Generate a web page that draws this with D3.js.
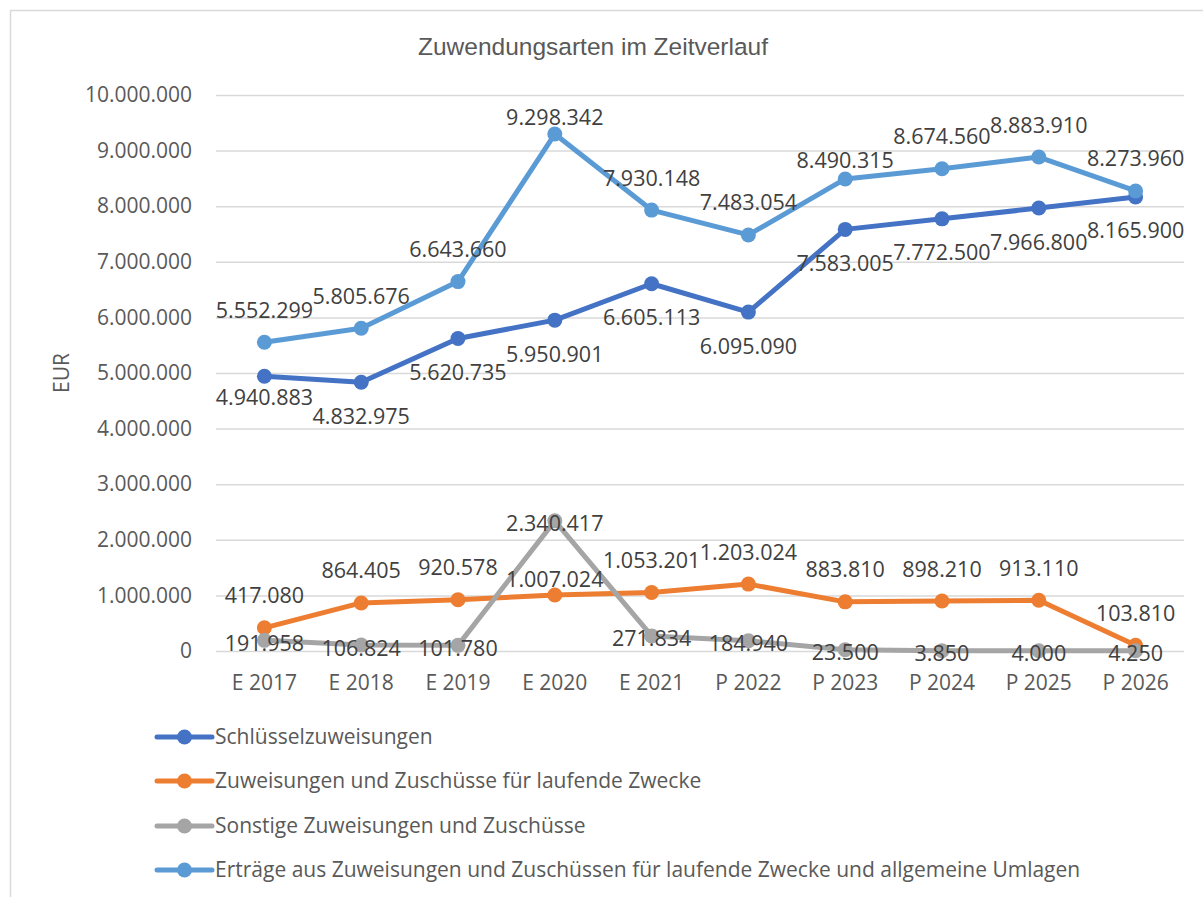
<!DOCTYPE html>
<html>
<head>
<meta charset="utf-8">
<script src="https://cdn.jsdelivr.net/npm/d3@7"></script>
<style>
  body { margin: 0; background: #fff; }
  text { font-family: "Open Sans", sans-serif; }
</style>
</head>
<body>
<div id="chart"></div>
<script>
// Zuwendungsarten im Zeitverlauf

const categories = ["E 2017", "E 2018", "E 2019", "E 2020", "E 2021", "P 2022", "P 2023", "P 2024", "P 2025", "P 2026"];

const schluessel = [4940883, 4832975, 5620735, 5950901, 6605113, 6095090, 7583005, 7772500, 7966800, 8165900];
const laufende = [417080, 864405, 920578, 1007024, 1053201, 1203024, 883810, 898210, 913110, 103810];
const sonstige = [191958, 106824, 101780, 2340417, 271834, 184940, 23500, 3850, 4000, 4250];
const ertraege = [5552299, 5805676, 6643660, 9298342, 7930148, 7483054, 8490315, 8674560, 8883910, 8273960];

const seriesNames = [
    "Schlüsselzuweisungen",
    "Zuweisungen und Zuschüsse für laufende Zwecke",
    "Sonstige Zuweisungen und Zuschüsse",
    "Erträge aus Zuweisungen und Zuschüssen für laufende Zwecke und allgemeine Umlagen"
];

const yTicks = [0, 1000000, 2000000, 3000000, 4000000, 5000000, 6000000, 7000000, 8000000, 9000000, 10000000];

// label placement per series (like excel: above / below / center)
const labelPos = ["below", "above", "center", "above"];
// a few labels that sit closer to their point in the original
const labelNudge = { "0-0": 21, "3-3": -17, "3-6": -18, "1-3": -16 };

const colors = ["#4472C4", "#ED7D31", "#A5A5A5", "#5B9BD5"];

const W = 1203, H = 897;
const margin = { top: 95, left: 216 },
    w = 968,
    h = 556;

const de = d3.formatLocale({ decimal: ",", thousands: ".", grouping: [3], currency: ["", " €"] });
const fmt = de.format(",d");

const svg = d3.select("#chart").append("svg")
    .attr("width", W)
    .attr("height", H);

svg.append("rect")
    .attr("width", W).attr("height", H)
    .attr("fill", "#fff");

// chart border
svg.append("rect")
    .attr("x", 10.5).attr("y", 10.5)
    .attr("width", 1300).attr("height", 1000)
    .attr("fill", "none")
    .attr("stroke", "#d9d9d9")
    .attr("stroke-width", 1.5);

// title
svg.append("text")
    .attr("x", 593)
    .attr("y", 55)
    .attr("text-anchor", "middle")
    .style("font-family", "'Liberation Sans', Arial, sans-serif")
    .style("font-size", "24.5px")
    .attr("fill", "#595959")
    .text("Zuwendungsarten im Zeitverlauf");

const g = svg.append("g")
    .attr("transform", "translate(" + margin.left + "," + margin.top + ")");

const xScale = d3.scaleBand()
    .domain(categories)
    .range([0, w]);

const xc = function (c) { return xScale(c) + xScale.bandwidth() / 2; };

const yScale = d3.scaleLinear()
    .domain([0, 10000000])
    .range([h, 0]);

// y axis with gridlines
const yAxis = g.append("g")
    .call(d3.axisLeft(yScale)
        .tickValues(yTicks)
        .tickSize(-w)
        .tickPadding(24)
        .tickFormat(fmt));
yAxis.select(".domain").remove();
yAxis.selectAll("line")
    .attr("stroke", "#d9d9d9")
    .attr("stroke-width", 1.5);
yAxis.selectAll("text")
    .attr("fill", "#595959")
    .style("font-size", "21px");

// x axis
const xAxis = g.append("g")
    .attr("transform", "translate(0," + h + ")")
    .call(d3.axisBottom(xScale).tickSize(0).tickPadding(24));
xAxis.select(".domain").remove();
xAxis.selectAll("text")
    .attr("fill", "#595959")
    .style("font-size", "21px");

// y axis title
svg.append("text")
    .attr("transform", "translate(69,373) rotate(-90)")
    .attr("text-anchor", "middle")
    .attr("fill", "#595959")
    .style("font-size", "21px")
    .text("EUR");

const allSeries = [schluessel, laufende, sonstige, ertraege];

const line = d3.line()
    .x(function (d, i) { return xc(categories[i]); })
    .y(function (d) { return yScale(d); });

// lines + markers, in series order
allSeries.forEach(function (vals, s) {
    const sg = g.append("g");
    sg.append("path")
        .datum(vals)
        .attr("d", line)
        .attr("fill", "none")
        .attr("stroke", colors[s])
        .attr("stroke-width", 5)
        .attr("stroke-linejoin", "round");
    sg.selectAll("circle")
        .data(vals).enter()
        .append("circle")
        .attr("cx", function (d, i) { return xc(categories[i]); })
        .attr("cy", function (d) { return yScale(d); })
        .attr("r", 7.5)
        .attr("fill", colors[s]);
});

// data labels on top
allSeries.forEach(function (vals, s) {
    g.append("g").selectAll("text")
        .data(vals).enter()
        .append("text")
        .attr("x", function (d, i) { return xc(categories[i]); })
        .attr("y", function (d, i) {
            let off = labelPos[s] === "above" ? -32 : (labelPos[s] === "below" ? 34 : 3);
            const key = s + "-" + i;
            if (labelNudge[key] !== undefined) off = labelNudge[key];
            return yScale(d) + off + 7.5;
        })
        .attr("text-anchor", "middle")
        .attr("fill", "#404040")
        .style("font-size", "21.5px")
        .text(function (d) { return fmt(d); });
});

// legend
const rows = [737, 781, 826, 870];
seriesNames.forEach(function (name, s) {
    const lg = svg.append("g").attr("transform", "translate(0," + rows[s] + ")");
    lg.append("line")
        .attr("x1", 157).attr("x2", 212)
        .attr("stroke", colors[s])
        .attr("stroke-width", 5)
        .attr("stroke-linecap", "round");
    lg.append("circle")
        .attr("cx", 184.5)
        .attr("r", 7.5)
        .attr("fill", colors[s]);
    lg.append("text")
        .attr("x", 215)
        .attr("dy", "0.35em")
        .attr("fill", "#595959")
        .style("font-size", "21px")
        .text(name);
});
</script>
</body>
</html>
